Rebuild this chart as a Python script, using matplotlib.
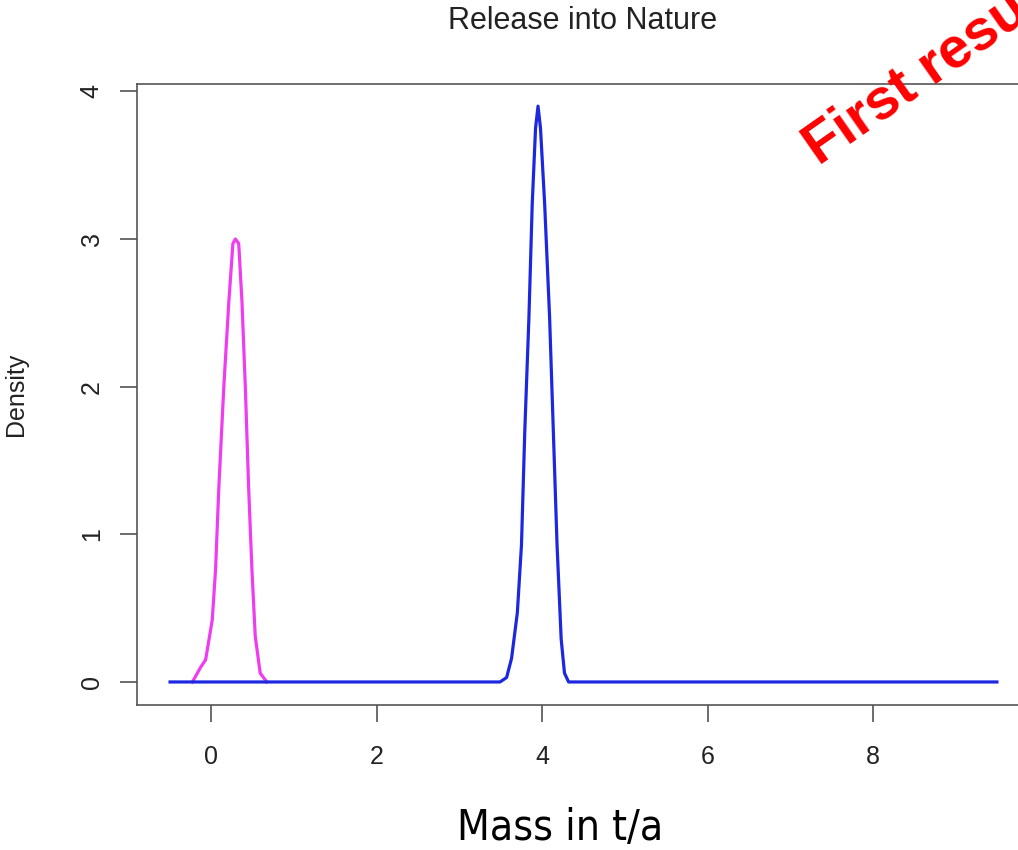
import matplotlib
matplotlib.use("Agg")
import matplotlib.pyplot as plt

# density curves
magenta_x = [-0.23, -0.13, -0.07, 0.01, 0.05, 0.09, 0.15, 0.21, 0.26, 0.29,
             0.33, 0.37, 0.41, 0.45, 0.49, 0.53, 0.59, 0.67]
magenta_y = [0, 0.10, 0.15, 0.42, 0.76, 1.32, 2.0, 2.57, 2.97, 3.0,
             2.97, 2.57, 2.0, 1.32, 0.76, 0.31, 0.06, 0]

blue_x = [-0.5, 3.49, 3.57, 3.63, 3.70, 3.75, 3.79, 3.84, 3.88, 3.92, 3.95,
          3.98, 4.03, 4.09, 4.135, 4.18, 4.23, 4.27, 4.32, 9.5]
blue_y = [0, 0, 0.03, 0.16, 0.47, 0.93, 1.70, 2.47, 3.24, 3.75, 3.9,
          3.75, 3.24, 2.47, 1.70, 0.93, 0.29, 0.06, 0, 0]

x_ticks = [0, 2, 4, 6, 8]
y_ticks = [0, 1, 2, 3, 4]

plt.rcParams['font.family'] = ['Liberation Sans', 'DejaVu Sans']

fig = plt.figure(figsize=(10.18, 8.5), dpi=100)
# the plot box runs past the right edge of the picture (cropped screenshot)
ax = fig.add_axes([137/1018, 145/850, 893/1018, 621/850])

ax.plot(magenta_x, magenta_y, color='#f03cf0', lw=2.3)
ax.plot(blue_x, blue_y, color='#1c28e0', lw=2.3)

ax.set_xlim(-0.9, 9.9)
ax.set_ylim(-0.156, 4.05)
ax.set_xticks(x_ticks)
ax.set_yticks(y_ticks)
ax.tick_params(axis='both', length=12, width=1.1, color='#444444',
               labelsize=18, labelcolor='#222222')
ax.tick_params(axis='x', pad=17)
ax.tick_params(axis='y', pad=12)
for lab in ax.get_yticklabels():
    lab.set_rotation(90)
    lab.set_va('center')
for sp in ax.spines.values():
    sp.set_color('#555555')
    sp.set_linewidth(1.2)

fig.text(583/1018, 1 - 21/850, 'Release into Nature', fontsize=22,
         ha='center', va='center', color='#222222')
ax.set_ylabel('Density', fontsize=18, color='#222222')
ax.yaxis.set_label_coords(-0.122, 0.5)

fig.text(560/1018, 1 - 828/850, 'Mass in t/a', fontsize=30.5, ha='center',
         va='center', family='DejaVu Sans', fontstretch='condensed')

fig.text(819/1018, 1 - 166/850, 'First results', fontsize=41,
         fontweight='bold', color='#ff0000', rotation=35,
         rotation_mode='anchor', ha='left', va='baseline')

fig.savefig('out.png', dpi=100, facecolor='white')
